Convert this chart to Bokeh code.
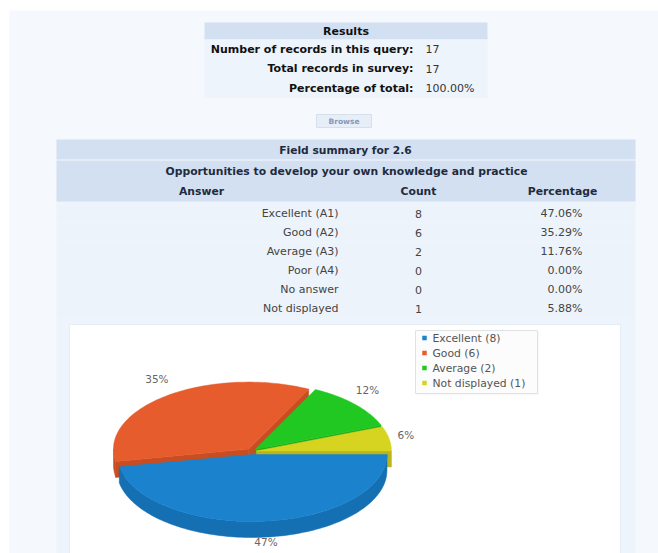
import math
import numpy as np
from bokeh.plotting import figure
from bokeh.models import Range1d
from bokeh.embed import file_html
from bokeh.resources import INLINE
from bokeh.core.properties import value

# ---------------- data ----------------
results_title = "Results"
summary_labels = ["Number of records in this query:", "Total records in survey:", "Percentage of total:"]
summary_values = ["17", "17", "100.00%"]
browse_label = "Browse"

field_title = "Field summary for 2.6"
question = "Opportunities to develop your own knowledge and practice"
col_headers = ["Answer", "Count", "Percentage"]
answers = ["Excellent (A1)", "Good (A2)", "Average (A3)", "Poor (A4)", "No answer", "Not displayed"]
counts = [8, 6, 2, 0, 0, 1]
percentages = ["47.06%", "35.29%", "11.76%", "0.00%", "0.00%", "5.88%"]

pie_labels = ["Excellent", "Good", "Average", "Not displayed"]
pie_counts = [8, 6, 2, 1]
pie_colors = ["#1b83cd", "#e65c2c", "#22c822", "#d6d421"]
pie_side_colors = ["#156fb3", "#c94d22", "#1aa81a", "#b8b61a"]

# ---------------- layout / style ----------------
FONT = value("DejaVu Sans")
W, H = 658, 553
PAGE_BG = "#f5f8fd"
HEAD_BG = "#d3e0f1"
ROW_BG = "#edf3fb"

p = figure(width=W, height=H, x_range=Range1d(0, W), y_range=Range1d(H, 0),
           output_backend="svg", toolbar_location=None, min_border=0,
           x_axis_type=None, y_axis_type=None)
p.grid.visible = False
p.outline_line_color = None
p.background_fill_color = "white"
p.border_fill_color = "white"

# page background
p.quad(left=[9], right=[W], top=[10], bottom=[H], fill_color=PAGE_BG, line_color=None)

# ---- Results table ----
rx0, rx1 = 204, 487
p.quad(left=[rx0], right=[rx1], top=[22], bottom=[39], fill_color=HEAD_BG, line_color=None)
p.quad(left=[rx0], right=[rx1], top=[39], bottom=[97], fill_color="#eef4fb", line_color=None)
p.text(x=[(rx0 + rx1) / 2], y=[31], text=[results_title], text_align="center", text_baseline="middle",
       text_font=FONT, text_font_style="bold", text_font_size="11px", text_color="#111111")
ys = [48.5 + 19.5 * i for i in range(len(summary_labels))]
p.text(x=[413] * len(ys), y=ys, text=summary_labels, text_align="right", text_baseline="middle",
       text_font=FONT, text_font_style="bold", text_font_size="11px", text_color="#111111")
p.text(x=[425] * len(ys), y=ys, text=summary_values, text_align="left", text_baseline="middle",
       text_font=FONT, text_font_size="11px", text_color="#333333")

# ---- Browse button ----
p.quad(left=[316], right=[371], top=[114], bottom=[127], fill_color="#e7eef8", line_color="#d6dfec")
p.text(x=[343.5], y=[121], text=[browse_label], text_align="center", text_baseline="middle",
       text_font=FONT, text_font_style="bold", text_font_size="7.5px", text_color="#8797b6")

# ---- Field summary table ----
fx0, fx1 = 56, 635
p.quad(left=[fx0], right=[fx1], top=[139], bottom=[H], fill_color="#edf4fc", line_color=None)
p.quad(left=[fx0], right=[fx1], top=[139], bottom=[201], fill_color=HEAD_BG, line_color=None)
p.segment(x0=[fx0], y0=[159.5], x1=[fx1], y1=[159.5], line_color="#f4f8fd", line_width=1)
p.text(x=[345], y=[150], text=[field_title], text_align="center", text_baseline="middle",
       text_font=FONT, text_font_style="bold", text_font_size="10.7px", text_color="#1f2b3d")
p.text(x=[346], y=[171], text=[question], text_align="center", text_baseline="middle",
       text_font=FONT, text_font_style="bold", text_font_size="10.8px", text_color="#1f2b3d")
p.text(x=[201, 418, 562], y=[191] * 3, text=col_headers, text_align="center", text_baseline="middle",
       text_font=FONT, text_font_style="bold", text_font_size="10.8px", text_color="#1f2b3d")

row_h = 19
row_y = [213 + row_h * i for i in range(len(answers))]
p.quad(left=[fx0] * len(row_y), right=[fx1] * len(row_y),
       top=[y - row_h / 2 + 0.5 for y in row_y], bottom=[y + row_h / 2 - 0.5 for y in row_y],
       fill_color=ROW_BG, line_color=None)
p.text(x=[338] * len(row_y), y=row_y, text=answers, text_align="right", text_baseline="middle",
       text_font=FONT, text_font_size="11px", text_color="#444444")
p.text(x=[418] * len(row_y), y=row_y, text=[str(c) for c in counts], text_align="center",
       text_baseline="middle", text_font=FONT, text_font_size="11px", text_color="#444444")
p.text(x=[582] * len(row_y), y=row_y, text=percentages, text_align="right", text_baseline="middle",
       text_font=FONT, text_font_size="11px", text_color="#444444")

# ---- chart box ----
p.quad(left=[69], right=[620], top=[324], bottom=[H + 5], fill_color="white", line_color="#e6ecf4")

# ---- 3D pie ----
cx, cy, prx, pry, depth, explode = 251, 451, 135, 67, 16, 5
total = float(sum(pie_counts))
bounds = []
acc = 0.0
for c in pie_counts:
    t1 = acc / total * 360.0
    acc += c
    t2 = acc / total * 360.0
    bounds.append((t1, t2))


def arc_pts(t1, t2, ox, oy, dy=0.0):
    n = max(3, int(abs(t2 - t1) / 1.5) + 2)
    ts = np.radians(np.linspace(t1, t2, n))
    return list(ox + prx * np.cos(ts)), list(oy + pry * np.sin(ts) + dy)


order = sorted(range(len(pie_counts)), key=lambda i: math.sin(math.radians(sum(bounds[i]) / 2)))
for i in order:
    t1, t2 = bounds[i]
    mid = math.radians((t1 + t2) / 2)
    ox = cx + math.cos(mid) * explode
    oy = cy + math.sin(mid) * explode * 0.6
    side_x, side_y = [], []
    # radial faces turned towards the viewer
    for t, vis in ((t1, -math.cos(math.radians(t1)) > 0), (t2, math.cos(math.radians(t2)) > 0)):
        if vis:
            rxp = ox + prx * math.cos(math.radians(t))
            ryp = oy + pry * math.sin(math.radians(t))
            side_x.append([ox, rxp, rxp, ox])
            side_y.append([oy, ryp, ryp + depth, oy + depth])
    # outer wall (front half 0..180)
    a, b = max(t1, 0.0), min(t2, 180.0)
    if b > a:
        tx, ty = arc_pts(a, b, ox, oy)
        bx, by = arc_pts(b, a, ox, oy, depth)
        side_x.append(tx + bx)
        side_y.append(ty + by)
    if side_x:
        p.patches(xs=side_x, ys=side_y, fill_color=pie_side_colors[i], line_color=pie_side_colors[i],
                  line_width=0.5)
    tx, ty = arc_pts(t1, t2, ox, oy)
    p.patch(x=[ox] + tx, y=[oy] + ty, fill_color=pie_colors[i], line_color=pie_colors[i], line_width=0.5)

# percentage labels
lab_x, lab_y, lab_t = [], [], []
for i, (t1, t2) in enumerate(bounds):
    mid = math.radians((t1 + t2) / 2)
    lab_x.append(cx + math.cos(mid) * (prx + 22))
    lab_y.append(cy + math.sin(mid) * (pry + 24))
    lab_t.append("%d%%" % round(100 * pie_counts[i] / total))
p.text(x=lab_x, y=lab_y, text=lab_t, text_align="center", text_baseline="middle",
       text_font=FONT, text_font_size="10.5px", text_color="#666666")

# ---- legend ----
p.quad(left=[416], right=[538], top=[331], bottom=[394], fill_color="#e9e9e9", line_color=None, fill_alpha=0.6)
p.quad(left=[415], right=[537], top=[330], bottom=[393], fill_color="#fcfcfc", line_color="#e2e2e2")
leg_y = [337.5 + 15 * i for i in range(len(pie_labels))]
p.scatter(x=[424] * len(leg_y), y=leg_y, marker="square", size=4.5, fill_color=pie_colors, line_color=None)
p.text(x=[432] * len(leg_y), y=leg_y,
       text=["%s (%d)" % (l, c) for l, c in zip(pie_labels, pie_counts)],
       text_align="left", text_baseline="middle", text_font=FONT, text_font_size="10.8px",
       text_color="#555555")

open("out.html", "w").write(file_html(p, INLINE))
